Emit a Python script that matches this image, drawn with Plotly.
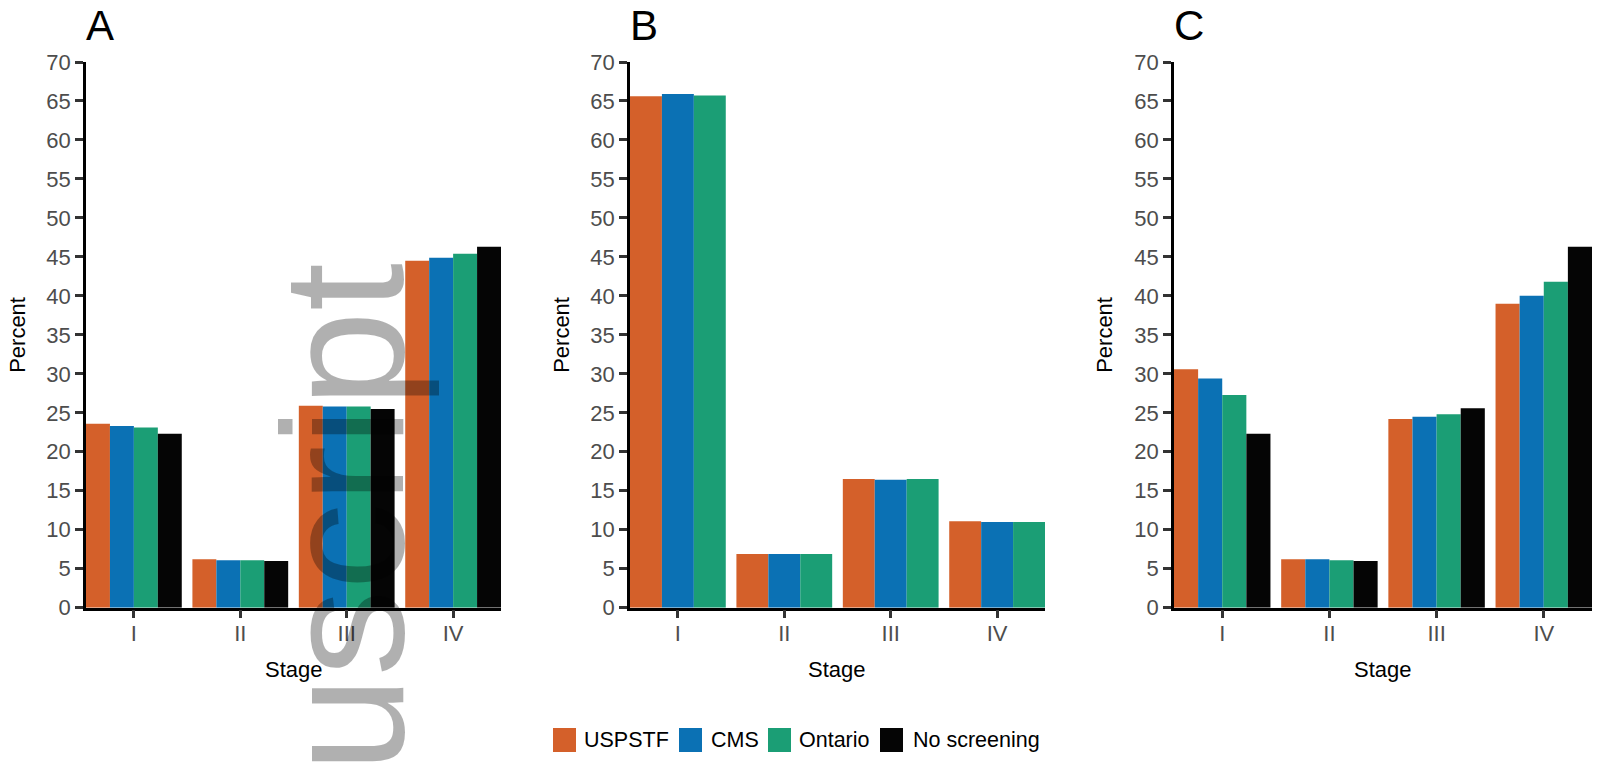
import plotly.graph_objects as go

# ---------------- data ----------------
stages = ["I", "II", "III", "IV"]
series_names = ["USPSTF", "CMS", "Ontario", "No screening"]
series_colors = ["#D4602A", "#0B71B4", "#1B9E75", "#050505"]

uspstf_A = [23.6, 6.2, 25.9, 44.5]
cms_A = [23.3, 6.1, 25.8, 44.9]
ontario_A = [23.1, 6.1, 25.8, 45.4]
noscreen_A = [22.3, 6.0, 25.5, 46.3]

uspstf_B = [65.6, 6.9, 16.5, 11.1]
cms_B = [65.9, 6.9, 16.4, 11.0]
ontario_B = [65.7, 6.9, 16.5, 11.0]

uspstf_C = [30.6, 6.2, 24.2, 39.0]
cms_C = [29.4, 6.2, 24.5, 40.0]
ontario_C = [27.3, 6.1, 24.8, 41.8]
noscreen_C = [22.3, 6.0, 25.6, 46.3]

panel_labels = ["A", "B", "C"]
y_ticks = list(range(0, 75, 5))
x_title = "Stage"
y_title = "Percent"
watermark = "manuscript"

panels = [
    [uspstf_A, cms_A, ontario_A, noscreen_A],
    [uspstf_B, cms_B, ontario_B],
    [uspstf_C, cms_C, ontario_C, noscreen_C],
]

# ---------------- layout geometry (pixels) ----------------
W, H = 1607, 772
x_doms_px = [(86, 501), (630, 1045), (1174, 1592)]
y_top_px, y_bot_px = 62, 607.7
ylab_x_px = [18, 562, 1105]

def px(x):
    return x / W

def py(y):
    return 1 - y / H

fig = go.Figure()
FONT = "Arial, Liberation Sans, Helvetica, sans-serif"

for p, series in enumerate(panels):
    xa = "x" if p == 0 else f"x{p+1}"
    ya = "y" if p == 0 else f"y{p+1}"
    for s, vals in enumerate(series):
        fig.add_trace(go.Bar(
            x=stages, y=vals, name=series_names[s],
            marker=dict(color=series_colors[s], line=dict(width=0)),
            xaxis=xa, yaxis=ya, showlegend=False,
        ))
    sfx = "" if p == 0 else str(p + 1)
    x0, x1 = x_doms_px[p]
    fig.layout["xaxis" + sfx] = dict(
        domain=[px(x0), px(x1)], anchor=ya, type="category",
        range=[-0.45, 3.45], showline=True, linecolor="#000", linewidth=2.5,
        ticks="outside", ticklen=8, tickwidth=2.5, tickcolor="#333",
        tickfont=dict(size=22, color="#4d4d4d", family=FONT),
        ticklabelstandoff=-4,
        showgrid=False, zeroline=False, fixedrange=True, automargin=False,
    )
    fig.layout["yaxis" + sfx] = dict(
        domain=[py(y_bot_px), py(y_top_px)], anchor=xa,
        range=[0, 70], tickvals=y_ticks, showline=True, linecolor="#000",
        linewidth=2.5, ticks="outside", ticklen=8, tickwidth=2.5,
        tickcolor="#333", tickfont=dict(size=22, color="#4d4d4d", family=FONT),
        showgrid=False, zeroline=False, fixedrange=True, automargin=False,
    )
    # panel letter
    fig.add_annotation(text=panel_labels[p], x=px(x0 - 2), y=py(25),
                       xref="paper", yref="paper", xanchor="left",
                       yanchor="middle", showarrow=False,
                       font=dict(size=42, color="#000", family=FONT))
    # axis titles
    fig.add_annotation(text=x_title, x=px((x0 + x1) / 2), y=py(669),
                       xref="paper", yref="paper", xanchor="center",
                       yanchor="middle", showarrow=False,
                       font=dict(size=22, color="#000", family=FONT))
    fig.add_annotation(text=y_title, x=px(ylab_x_px[p]),
                       y=py((y_top_px + y_bot_px) / 2),
                       xref="paper", yref="paper", xanchor="center",
                       yanchor="middle", textangle=-90, showarrow=False,
                       font=dict(size=22, color="#000", family=FONT))

# ---------------- legend (drawn manually) ----------------
leg_sq_x = [553, 679, 768, 880]
leg_tx_x = [584, 711, 799, 913]
for i, name in enumerate(series_names):
    fig.add_shape(type="rect", xref="paper", yref="paper",
                  x0=px(leg_sq_x[i]), x1=px(leg_sq_x[i] + 23),
                  y0=py(752), y1=py(728),
                  fillcolor=series_colors[i], line=dict(width=0))
    fig.add_annotation(text=name, x=px(leg_tx_x[i] - 2), y=py(740),
                       xref="paper", yref="paper", xanchor="left",
                       yanchor="middle", showarrow=False,
                       font=dict(size=21.5, color="#000", family=FONT))

# ---------------- watermark ----------------
fig.add_annotation(text=watermark, x=px(343), y=py(686), xref="paper",
                   yref="paper", xanchor="center", yanchor="middle",
                   textangle=-90, showarrow=False,
                   font=dict(size=173, color="rgba(0,0,0,0.31)", family=FONT))

fig.update_layout(
    width=W, height=H, margin=dict(l=0, r=0, t=0, b=0, pad=0),
    barmode="group", bargap=0.1, bargroupgap=0,
    plot_bgcolor="white", paper_bgcolor="white",
    font=dict(family=FONT), template="none",
)

fig.write_html("out.html", config={"displayModeBar": False})
